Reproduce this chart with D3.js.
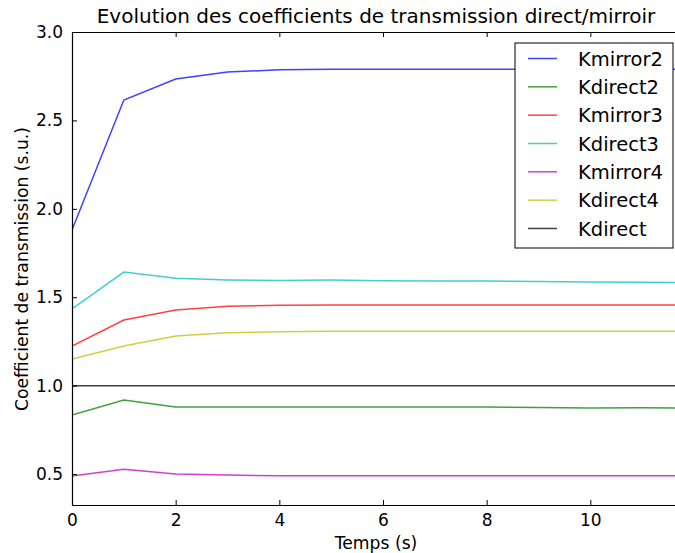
<!DOCTYPE html>
<meta charset="utf-8">
<style>
body { margin: 0; background: #fff; }
svg text { font-family: "DejaVu Sans", sans-serif; fill: #000; }
.axis path, .axis line { stroke: #000; }
</style>
<body>
<script src="https://cdn.jsdelivr.net/npm/d3@7"></script>
<script>

// data
var temps = [0, 1, 2, 3, 4, 5, 6, 7, 8, 9, 10, 11, 12];
var kmirror2 = [1.88, 2.615, 2.734, 2.774, 2.786, 2.789, 2.79, 2.79, 2.79, 2.79, 2.79, 2.79, 2.79];
var kdirect2 = [0.834, 0.919, 0.879, 0.879, 0.879, 0.879, 0.879, 0.879, 0.879, 0.876, 0.874, 0.875, 0.873];
var kmirror3 = [1.224, 1.371, 1.428, 1.449, 1.454, 1.456, 1.456, 1.456, 1.456, 1.456, 1.456, 1.456, 1.456];
var kdirect3 = [1.434, 1.642, 1.607, 1.598, 1.595, 1.597, 1.593, 1.592, 1.592, 1.589, 1.586, 1.585, 1.583];
var kmirror4 = [0.489, 0.527, 0.5, 0.494, 0.491, 0.49, 0.49, 0.49, 0.49, 0.49, 0.49, 0.49, 0.49];
var kdirect4 = [1.15, 1.224, 1.281, 1.299, 1.305, 1.307, 1.307, 1.307, 1.307, 1.307, 1.307, 1.307, 1.307];
var kdirect = [1, 1, 1, 1, 1, 1, 1, 1, 1, 1, 1, 1, 1];

var seriesNames = ["Kmirror2", "Kdirect2", "Kmirror3", "Kdirect3", "Kmirror4", "Kdirect4", "Kdirect"];
var seriesValues = [kmirror2, kdirect2, kmirror3, kdirect3, kmirror4, kdirect4, kdirect];
var colors = ["#0000ff", "#008000", "#ff0000", "#00bfbf", "#bf00bf", "#bfbf00", "#000000"];

var xTicks = [0, 2, 4, 6, 8, 10];
var yTicks = [0.5, 1.0, 1.5, 2.0, 2.5, 3.0];

var margin = {top: 32, right: -5, bottom: 48, left: 72},
  width = 675 - margin.left - margin.right,
  height = 553 - margin.top - margin.bottom;

var svg = d3.select("body")
  .append("svg")
    .attr("width", 675)
    .attr("height", 553)
  .append("g")
    .attr("transform", "translate(" + margin.left + "," + margin.top + ")");

var x = d3.scaleLinear().domain([0, 11.73]).range([0, width]);
var y = d3.scaleLinear().domain([0.325, 3.0]).range([height, 0]);

svg.append("clipPath").attr("id", "clip")
  .append("rect").attr("width", width).attr("height", height);

var line = d3.line()
    .x(function(d, i) { return x(temps[i]); })
    .y(function(d) { return y(d); });

svg.append("g").attr("clip-path", "url(#clip)")
  .selectAll("path")
  .data(seriesValues)
  .enter()
  .append("path")
    .attr("d", line)
    .attr("fill", "none")
    .attr("stroke", function(d, i) { return colors[i]; })
    .attr("stroke-opacity", 0.75)
    .attr("stroke-width", 1.5);

// axes with inward ticks on all sides
var fmtY = d3.format(".1f");
svg.append("g").attr("class", "axis")
    .attr("transform", "translate(0," + height + ")")
    .call(d3.axisBottom(x).tickValues(xTicks).tickSizeInner(-5).tickSizeOuter(0).tickPadding(9).tickFormat(d3.format("d")))
    .selectAll("text").style("font-size", "17px");
svg.append("g").attr("class", "axis")
    .call(d3.axisTop(x).tickValues(xTicks).tickSizeInner(-5).tickSizeOuter(0).tickFormat(""));
svg.append("g").attr("class", "axis")
    .call(d3.axisLeft(y).tickValues(yTicks).tickSizeInner(-5).tickSizeOuter(0).tickPadding(9).tickFormat(fmtY))
    .selectAll("text").style("font-size", "17px");

svg.selectAll(".axis path").attr("stroke-width", 1.2);

// title and axis labels
svg.append("text")
    .attr("x", (680 - margin.left) / 2)
    .attr("y", -9)
    .attr("text-anchor", "middle")
    .style("font-size", "20px")
    .text("Evolution des coefficients de transmission direct/mirroir");

svg.append("text")
    .attr("x", (680 - margin.left) / 2)
    .attr("y", height + 44)
    .attr("text-anchor", "middle")
    .style("font-size", "17.2px")
    .text("Temps (s)");

svg.append("text")
    .attr("transform", "translate(" + (-44) + "," + (269 - margin.top) + ") rotate(-90)")
    .attr("text-anchor", "middle")
    .style("font-size", "17.2px")
    .text("Coefficient de transmission (s.u.)");

// legend
var legend = svg.append("g").attr("transform", "translate(" + (515 - margin.left) + "," + (43 - margin.top) + ")");
legend.append("rect")
    .attr("width", 158)
    .attr("height", 205)
    .attr("fill", "#fff")
    .attr("stroke", "#000")
    .attr("stroke-width", 1);

seriesNames.forEach(function(name, i) {
  var ly = 15.5 + i * 28.33;
  legend.append("line")
      .attr("x1", 13).attr("x2", 42)
      .attr("y1", ly).attr("y2", ly)
      .attr("stroke", colors[i])
      .attr("stroke-opacity", 0.75)
      .attr("stroke-width", 1.5);
  legend.append("text")
      .attr("x", 63)
      .attr("y", ly)
      .attr("dy", "0.36em")
      .style("font-size", "19.5px")
      .text(name);
});

</script>
</body>
